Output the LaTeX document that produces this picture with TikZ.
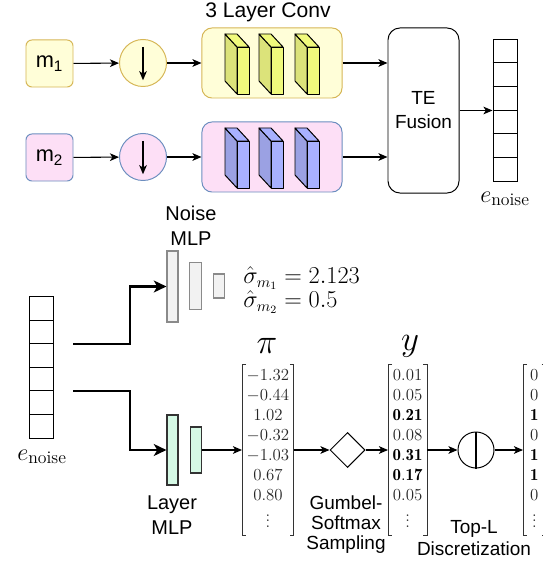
\documentclass[tikz,border=0pt]{standalone}
\usepackage{fontspec}
\setsansfont{Liberation Sans}
\usepackage{amsmath}
\usetikzlibrary{shapes.geometric, arrows.meta, positioning}
\definecolor{ylfill}{HTML}{FFFED8}
\definecolor{ylline}{HTML}{D6B656}
\definecolor{pkfill}{HTML}{FDDFF6}
\definecolor{blline}{HTML}{6C8EBF}
\definecolor{ylside}{HTML}{DCE37A}
\definecolor{ylfront}{HTML}{F0FA7C}
\definecolor{blside}{HTML}{9BA1E3}
\definecolor{blfront}{HTML}{A8B1FF}
\definecolor{mint}{HTML}{D5F9E5}
\definecolor{barfill}{HTML}{F2F2F2}
\definecolor{bargray}{HTML}{8A8A8A}

\begin{document}
\begin{tikzpicture}[x=0.025cm, y=-0.025cm,
    txt/.style={font=\sffamily\fontsize{13.5}{14.2}\selectfont, align=center, inner sep=0},
    modality/.style={rectangle, rounded corners=0.15cm, draw, line width=0.7pt, minimum size=1.175cm, inner sep=0, font=\sffamily\fontsize{15.5}{18}\selectfont},
    pool/.style={circle, draw, line width=0.7pt, minimum size=1.175cm, inner sep=0},
    convbox/.style={rectangle, rounded corners=0.25cm, draw, line width=0.7pt, minimum width=3.5cm, minimum height=1.75cm},
    vec/.style={rectangle, draw, line width=0.7pt, minimum width=0.6cm, minimum height=3.525cm, inner sep=0},
    nbar/.style={rectangle, draw=bargray, fill=barfill, line width=0.8pt, inner sep=0, minimum width=0.29cm},
    lbar/.style={rectangle, draw=black!80, fill=mint, line width=0.8pt, inner sep=0, minimum width=0.29cm},
    vals/.style={inner xsep=0.11cm, inner ysep=0.05cm, font=\fontsize{12}{14.2}\selectfont, text=black!85},
    big/.style={inner sep=0, font=\fontsize{18}{20}\selectfont},
    flow/.style={-{Stealth[length=6.5pt, width=5.5pt, inset=1.8pt]}, line width=0.75pt},
    bigflow/.style={-{Stealth[length=9pt, width=8.5pt, inset=2.5pt]}, line width=1.6pt}
]
\useasboundingbox (0,0) rectangle (542,563);

% Modalities
\node[modality, fill=ylfill, draw=ylline] (m1) at (49.5,63.5) {m\textsubscript{1}};
\node[modality, fill=pkfill, draw=blline] (m2) at (49.5,157.5) {m\textsubscript{2}};

% Pooling
\node[pool, fill=ylfill, draw=ylline] (pool1) at (143,63) {};
\node[pool, fill=pkfill, draw=blline] (pool2) at (143,157) {};
\draw[flow] ([yshift=0.4cm]pool1.center) -- ([yshift=-0.43cm]pool1.center);
\draw[flow] ([yshift=0.4cm]pool2.center) -- ([yshift=-0.43cm]pool2.center);

% Conv blocks
\node[convbox, fill=ylfill, draw=ylline] (conv1) at (272,63) {};
\node[convbox, fill=pkfill, draw=blline] (conv2) at (272,157) {};
\node[txt, font=\sffamily\fontsize{15}{18}\selectfont] (convlbl) at (268,12) {3 Layer Conv};
\foreach \cx in {225,259,295}{
  \foreach \cy/\sd/\fr in {34/ylside/ylfront, 128/blside/blfront}{
    \filldraw[fill=\sd, line width=0.7pt, line join=round] (\cx,\cy) -- ++(12,13) -- ++(0,47) -- ++(-12,-13) -- cycle;
    \filldraw[fill=\fr, line width=0.7pt, line join=round] (\cx,\cy) -- ++(12,0) -- ++(12,13) -- ++(-12,0) -- cycle;
    \filldraw[fill=\fr, line width=0.7pt, line join=round] (\cx+12,\cy+13) rectangle ++(12,47);
  }
}

% Fusion
\node[rectangle, rounded corners=0.3cm, draw, line width=0.7pt, minimum width=1.775cm, minimum height=4.125cm, txt, font=\sffamily\fontsize{13.5}{17}\selectfont] (te) at (423.5,110.5) {TE\\Fusion};

% Noise embedding (top)
\node[vec] (vecA) at (505,110.5) {};
\foreach \k in {1,...,5}
  \draw[line width=0.7pt] ([yshift=-\k*0.5875cm]vecA.north west) -- ([yshift=-\k*0.5875cm]vecA.north east);
\node[big] (enoiseA) at (505,199) {$e_{\mathrm{noise}}$};

\draw[flow] (m1) -- (pool1);
\draw[flow] (pool1) -- (conv1);
\draw[flow] (m2) -- (pool2);
\draw[flow] (pool2) -- (conv2);
\draw[flow] (conv1.east) -- (conv1.east -| te.west);
\draw[flow] (conv2.east) -- (conv2.east -| te.west);
\draw[flow] (te) -- (vecA);

% Noise embedding (bottom)
\node[vec] (vecB) at (41.5,367.5) {};
\foreach \k in {1,...,5}
  \draw[line width=0.7pt] ([yshift=-\k*0.5875cm]vecB.north west) -- ([yshift=-\k*0.5875cm]vecB.north east);
\node[big] (enoiseB) at (42,457) {$e_{\mathrm{noise}}$};

% Noise MLP
\node[nbar, minimum width=0.275cm, minimum height=1.775cm] (nb1) at (172.5,286.5) {};
\node[nbar, minimum height=1.175cm] (nb2) at (195.5,286) {};
\node[nbar, minimum height=0.6cm] (nb3) at (219,286) {};
\node[txt, font=\sffamily\fontsize{14.2}{17.8}\selectfont] (noiselbl) at (191,226) {Noise\\MLP};
\node[inner sep=0, anchor=west, align=left, font=\fontsize{16}{17}\selectfont] (sigma) at (243,290) {$\hat{\sigma}_{m_1} = 2.123$\\$\hat{\sigma}_{m_2} = 0.5$};

% Layer MLP
\node[lbar, minimum width=0.275cm, minimum height=1.75cm] (lb1) at (172.5,450) {};
\node[lbar, minimum height=1.15cm] (lb2) at (196,450) {};
\node[txt, font=\sffamily\fontsize{14.2}{17.8}\selectfont] (layerlbl) at (172,515) {Layer\\MLP};

\coordinate (tapA) at (73,344);
\coordinate (tapB) at (73,391);
\draw[bigflow] (tapA) -- ++(57,0) |- (nb1.west);
\draw[bigflow] (tapB) -- ++(57,0) |- (lb1.west);

% Logits, sampling, discretization
\node[vals, anchor=west] (pimat) at (242,450) {$\begin{array}{@{}c@{}}-1.32\\-0.44\\1.02\\-0.32\\-1.03\\0.67\\0.80\\\vdots\end{array}$};
\node[big, font=\fontsize{24}{26}\selectfont] (pilbl) at (267,346) {$\pi$};
\node[diamond, draw, line width=0.7pt, minimum width=0.875cm, minimum height=0.875cm, inner sep=0] (gumbel) at (347.5,450) {};
\node[txt] (gumbellbl) at (346,525) {Gumbel-\\Softmax\\Sampling};
\node[vals, anchor=west] (ymat) at (388,450) {$\begin{array}{@{}c@{}}0.01\\0.05\\\color{black}\mathbf{0.21}\\0.08\\\color{black}\mathbf{0.31}\\\color{black}\mathbf{0.17}\\0.05\\\vdots\end{array}$};
\node[big, font=\fontsize{24}{26}\selectfont] (ylbl) at (410,346) {$y$};
\node[pool, minimum size=0.9cm] (topl) at (476,450) {};
\draw[line width=1.8pt] (topl.north) -- (topl.south);
\node[txt, font=\sffamily\fontsize{13.5}{15.2}\selectfont] (topllbl) at (474,538) {Top-L\\Discretization};
\node[vals, anchor=west, inner xsep=0.17cm] (lastmat) at (523,450) {$\begin{array}{@{}c@{}}0\\0\\\color{black}\mathbf{1}\\0\\\color{black}\mathbf{1}\\\color{black}\mathbf{1}\\0\\\vdots\end{array}$};

% Brackets
\foreach \m in {pimat,ymat,lastmat}{
  \draw[black!80, line width=0.6pt] ([xshift=0.1cm]\m.north west) -| (\m.south west) -- ++(0.1cm,0);
  \draw[black!80, line width=0.6pt] ([xshift=-0.1cm]\m.north east) -| (\m.south east) -- ++(-0.1cm,0);
}

\draw[flow] (lb2) -- (pimat);
\draw[flow] (pimat) -- (gumbel);
\draw[flow] (gumbel) -- (ymat);
\draw[flow] (ymat) -- (topl);
\draw[flow] (topl) -- (lastmat);

\end{tikzpicture}
\end{document}
